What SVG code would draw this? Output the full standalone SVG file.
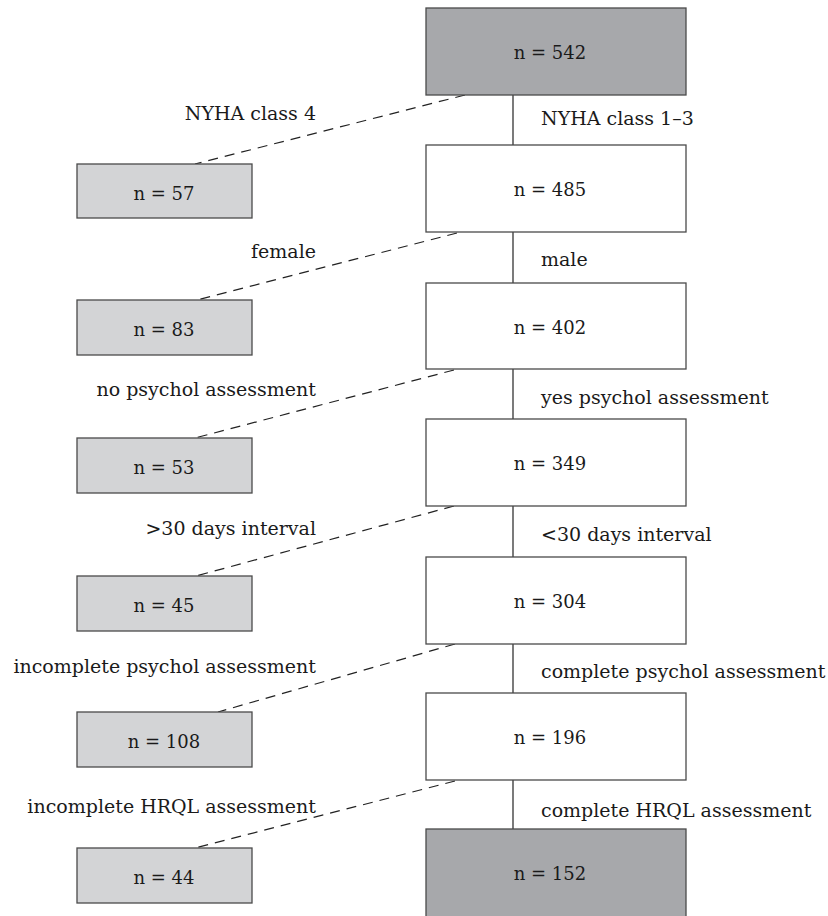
<svg xmlns="http://www.w3.org/2000/svg" width="828" height="916" viewBox="0 0 828 916">
<style>
  .box { stroke: #4a4a4a; stroke-width: 1.3; }
  .dark { fill: #a7a8ab; }
  .light { fill: #d3d4d6; }
  .white { fill: #ffffff; }
  text { font-family: "DejaVu Serif", "Liberation Serif", serif; font-size: 19px; fill: #1a1a1a; }
  .c { text-anchor: middle; font-size: 18px; }
  .r { text-anchor: end; }
  .solid { stroke: #222; stroke-width: 1.2; fill: none; }
  .dash { stroke: #222; stroke-width: 1.2; fill: none; stroke-dasharray: 10 7; }
</style>
<rect width="828" height="916" fill="#ffffff"/>
<g id="connectors">
  <line class="solid" x1="513" y1="95" x2="513" y2="145"/>
  <line class="solid" x1="513" y1="232" x2="513" y2="283"/>
  <line class="solid" x1="513" y1="369" x2="513" y2="419"/>
  <line class="solid" x1="513" y1="506" x2="513" y2="557"/>
  <line class="solid" x1="513" y1="644" x2="513" y2="693"/>
  <line class="solid" x1="513" y1="780" x2="513" y2="829"/>
  <line class="dash" x1="465" y1="95" x2="195" y2="164"/>
  <line class="dash" x1="457" y1="233" x2="197" y2="300"/>
  <line class="dash" x1="454" y1="370" x2="195" y2="438"/>
  <line class="dash" x1="454" y1="506" x2="196" y2="576"/>
  <line class="dash" x1="455" y1="644" x2="218" y2="712"/>
  <line class="dash" x1="455" y1="781" x2="195" y2="848"/>
</g>
<g id="labels">
  <text x="541" y="125">NYHA class 1–3</text>
  <text x="541" y="266">male</text>
  <text x="541" y="404">yes psychol assessment</text>
  <text x="541" y="541">&lt;30 days interval</text>
  <text x="541" y="678">complete psychol assessment</text>
  <text x="541" y="817">complete HRQL assessment</text>
  <text class="r" x="316" y="120">NYHA class 4</text>
  <text class="r" x="316" y="258">female</text>
  <text class="r" x="316" y="396">no psychol assessment</text>
  <text class="r" x="316" y="535">&gt;30 days interval</text>
  <text class="r" x="316" y="673">incomplete psychol assessment</text>
  <text class="r" x="316" y="813">incomplete HRQL assessment</text>
</g>
<g id="n542"><rect class="box dark" x="426" y="8" width="260" height="87"/><text class="c" x="550" y="59">n = 542</text></g>
<g id="n485"><rect class="box white" x="426" y="145" width="260" height="87"/><text class="c" x="550" y="196">n = 485</text></g>
<g id="n402"><rect class="box white" x="426" y="283" width="260" height="86"/><text class="c" x="550" y="334">n = 402</text></g>
<g id="n349"><rect class="box white" x="426" y="419" width="260" height="87"/><text class="c" x="550" y="470">n = 349</text></g>
<g id="n304"><rect class="box white" x="426" y="557" width="260" height="87"/><text class="c" x="550" y="608">n = 304</text></g>
<g id="n196"><rect class="box white" x="426" y="693" width="260" height="87"/><text class="c" x="550" y="744">n = 196</text></g>
<g id="n152"><rect class="box dark" x="426" y="829" width="260" height="90"/><text class="c" x="550" y="880">n = 152</text></g>
<g id="n57"><rect class="box light" x="77" y="164" width="175" height="54"/><text class="c" x="164" y="200">n = 57</text></g>
<g id="n83"><rect class="box light" x="77" y="300" width="175" height="55"/><text class="c" x="164" y="336">n = 83</text></g>
<g id="n53"><rect class="box light" x="77" y="438" width="175" height="55"/><text class="c" x="164" y="474">n = 53</text></g>
<g id="n45"><rect class="box light" x="77" y="576" width="175" height="55"/><text class="c" x="164" y="612">n = 45</text></g>
<g id="n108"><rect class="box light" x="77" y="712" width="175" height="55"/><text class="c" x="164" y="748">n = 108</text></g>
<g id="n44"><rect class="box light" x="77" y="848" width="175" height="55"/><text class="c" x="164" y="884">n = 44</text></g>
</svg>
